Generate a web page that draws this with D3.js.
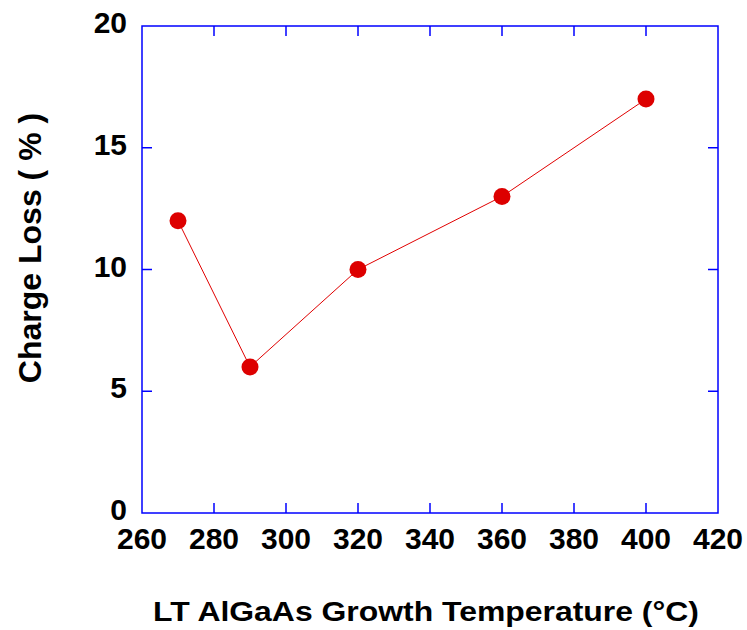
<!DOCTYPE html>
<html>
<head>
<meta charset="utf-8">
<script src="https://cdn.jsdelivr.net/npm/d3@7"></script>
<style>
  body { margin: 0; background: #fff; }
  text { font-family: Arial, "Liberation Sans", sans-serif; font-weight: bold; fill: #000; }
</style>
</head>
<body>
<div id="chart"></div>
<script>
// data
const temps = [270, 290, 320, 360, 400];
const chargeLoss = [12, 6, 10, 13, 17];
const xTicks = [260, 280, 300, 320, 340, 360, 380, 400, 420];
const yTicks = [0, 5, 10, 15, 20];

const width = 747, height = 630;
const margin = { top: 26, right: 29, bottom: 117, left: 142 };
const plotW = width - margin.left - margin.right;
const plotH = height - margin.top - margin.bottom;

const svg = d3.select('#chart').append('svg')
  .attr('width', width)
  .attr('height', height);

const x = d3.scaleLinear().domain([260, 420]).range([0, plotW]);
const y = d3.scaleLinear().domain([0, 20]).range([plotH, 0]);

const g = svg.append('g').attr('transform', `translate(${margin.left},${margin.top})`);

// frame
g.append('rect')
  .attr('width', plotW)
  .attr('height', plotH)
  .attr('fill', 'none')
  .attr('stroke', '#0000ff')
  .attr('stroke-width', 1.5);

// inward ticks on all four sides
const tickLen = 10;
const blue = '#0000ff';
xTicks.slice(1, -1).forEach(t => {
  g.append('line').attr('x1', x(t)).attr('x2', x(t)).attr('y1', plotH).attr('y2', plotH - tickLen)
    .attr('stroke', blue).attr('stroke-width', 1.5);
  g.append('line').attr('x1', x(t)).attr('x2', x(t)).attr('y1', 0).attr('y2', tickLen)
    .attr('stroke', blue).attr('stroke-width', 1.5);
});
yTicks.slice(1, -1).forEach(t => {
  g.append('line').attr('y1', y(t)).attr('y2', y(t)).attr('x1', 0).attr('x2', tickLen)
    .attr('stroke', blue).attr('stroke-width', 1.5);
  g.append('line').attr('y1', y(t)).attr('y2', y(t)).attr('x1', plotW).attr('x2', plotW - tickLen)
    .attr('stroke', blue).attr('stroke-width', 1.5);
});

// tick labels
g.selectAll('.xlab').data(xTicks).enter().append('text')
  .attr('class', 'xlab')
  .attr('x', d => x(d))
  .attr('y', plotH + 36)
  .attr('text-anchor', 'middle')
  .style('font-size', '30px')
  .text(d => d);

g.selectAll('.ylab').data(yTicks).enter().append('text')
  .attr('class', 'ylab')
  .attr('x', -15)
  .attr('y', d => y(d) + 7)
  .attr('text-anchor', 'end')
  .style('font-size', '30px')
  .text(d => d);

// line + markers
const pts = temps.map((t, i) => [t, chargeLoss[i]]);
g.append('path')
  .datum(pts)
  .attr('fill', 'none')
  .attr('stroke', '#e00000')
  .attr('stroke-width', 1)
  .attr('d', d3.line().x(d => x(d[0])).y(d => y(d[1])));

g.selectAll('circle').data(pts).enter().append('circle')
  .attr('cx', d => x(d[0]))
  .attr('cy', d => y(d[1]))
  .attr('r', 8.5)
  .attr('fill', '#dd0000');

// axis titles
svg.append('text')
  .attr('transform', 'translate(426,621) scale(1.14,1)')
  .attr('text-anchor', 'middle')
  .style('font-size', '28px')
  .text('LT AlGaAs Growth Temperature (°C)');

svg.append('text')
  .attr('transform', 'translate(41,248) rotate(-90)')
  .attr('text-anchor', 'middle')
  .style('font-size', '32px')
  .text('Charge Loss ( % )');
</script>
</body>
</html>
